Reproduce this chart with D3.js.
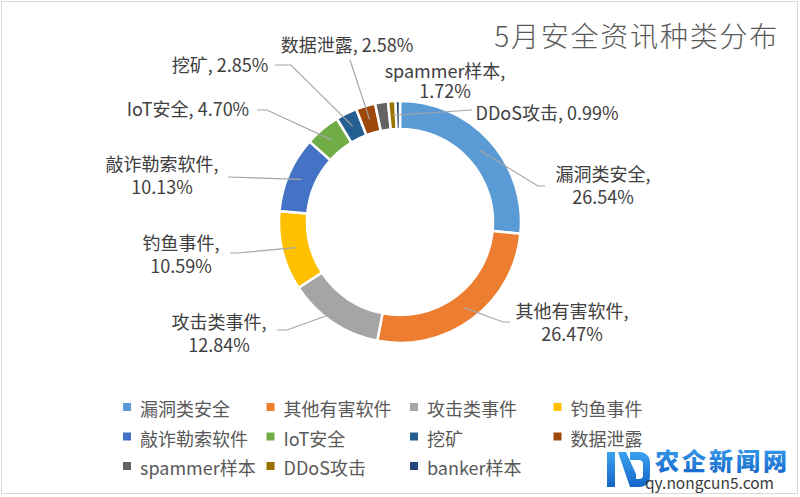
<!DOCTYPE html>
<html>
<head>
<meta charset="utf-8">
<script src="https://cdn.jsdelivr.net/npm/d3@7"></script>
<style>
  html, body { margin: 0; padding: 0; background: #fff; }
  svg { display: block; }
  text { font-family: "Noto Sans CJK SC", "Noto Sans", sans-serif; }
</style>
</head>
<body>
<svg id="chart" width="800" height="497"></svg>
<script>
// ---- data ----
const title = "5月安全资讯种类分布";
const categories = ["漏洞类安全", "其他有害软件", "攻击类事件", "钓鱼事件", "敲诈勒索软件",
  "IoT安全", "挖矿", "数据泄露", "spammer样本", "DDoS攻击", "banker样本"];
const values = [26.54, 26.47, 12.84, 10.59, 10.13, 4.70, 2.85, 2.58, 1.72, 0.99, 0.59];
const colors = ["#5B9BD5", "#ED7D31", "#A5A5A5", "#FFC000", "#4472C4", "#70AD47",
  "#255E91", "#9E480E", "#636363", "#997300", "#264478"];
// label layout: lines split, text centre offset & first baseline offset from pie centre,
// leader polyline points (offsets from centre) after the slice centroid
const labelSplit = [true, true, true, true, true, false, false, false, true, false, null];
const labelAnchor = [[203, -41], [172, 96], [-181, 107], [-219, 28], [-238, -51],
  [-212, -106], [-180, -150], [-53, -170], [45, -144], [147, -102], null];
const labelGap = [23, 23, 23, 23, 23, 0, 0, 0, 20, 0, 0];
const leaderPts = [
  [[138, -36], [145, -36]],
  [[103, 100], [110, 100]],
  [[-113, 108], [-123, 108]],
  [[-163, 31], [-170, 31]],
  [[-172, -45]],
  [[-133, -112], [-143, -112]],
  [[-109, -157], [-125, -157]],
  [[-50, -162]],
  null,
  [[72, -112]],
  null
];

const svg = d3.select("#chart");
const W = 800, H = 497;
const cx = 400, cy = 222, rOuter = 121, rInner = 93, rLabel = 107;

// frame
svg.append("rect").attr("x", 1.5).attr("y", 1.5).attr("width", W - 4).attr("height", H - 5)
  .attr("fill", "#fff").attr("stroke", "#d9d9d9").attr("stroke-width", 1);

// title
const t = svg.append("text").attr("x", 779).attr("y", 47).attr("text-anchor", "end")
  .attr("font-size", 28).attr("fill", "#595959").attr("font-weight", 300).text(title);
const tw = t.node().getComputedTextLength();
const targetW = 283;
if (tw > 0) t.attr("letter-spacing", ((targetW - tw) / (title.length - 1)).toFixed(2));

// pie
const pie = d3.pie().sort(null).value(d => d).startAngle(0).endAngle(2 * Math.PI);
const arcs = pie(values);
const arc = d3.arc().innerRadius(rInner).outerRadius(rOuter);
const arcMid = d3.arc().innerRadius(rLabel).outerRadius(rLabel);
const g = svg.append("g").attr("transform", `translate(${cx},${cy})`);
g.selectAll("path.slice").data(arcs).join("path").attr("class", "slice")
  .attr("d", arc).attr("fill", (d, i) => colors[i])
  .attr("stroke", "#fff").attr("stroke-width", 2.5).attr("stroke-linejoin", "miter");

// leaders
const line = d3.line();
arcs.forEach((a, i) => {
  if (!leaderPts[i]) return;
  const pts = [arcMid.centroid(a), ...leaderPts[i]];
  g.append("path").attr("d", line(pts)).attr("fill", "none")
    .attr("stroke", "#a6a6a6").attr("stroke-width", 1.2);
});

// labels
arcs.forEach((a, i) => {
  if (!labelAnchor[i]) return;
  const pct = values[i].toFixed(2) + "%";
  const lines = labelSplit[i] ? [categories[i] + ",", pct] : [categories[i] + ", " + pct];
  const tx = g.append("text").attr("text-anchor", "middle").attr("font-size", 18)
    .attr("fill", "#404040");
  lines.forEach((l, k) => {
    tx.append("tspan").attr("x", labelAnchor[i][0]).attr("y", labelAnchor[i][1] + k * labelGap[i]).text(l);
  });
});

// legend
const legCols = 4, colW = 143.5, legX = 123, legY = 403, rowH = 29.5;
const leg = svg.append("g");
categories.forEach((c, i) => {
  const col = i % legCols, row = Math.floor(i / legCols);
  const x = legX + col * colW, y = legY + row * rowH;
  leg.append("rect").attr("x", x).attr("y", y).attr("width", 8).attr("height", 8)
    .attr("fill", colors[i]);
  leg.append("text").attr("x", x + 17).attr("y", y + 13).attr("font-size", 18)
    .attr("fill", "#595959").text(c);
});

// watermark
const wm = svg.append("g");
const grad = svg.append("defs").append("linearGradient").attr("id", "wmg")
  .attr("x1", 0).attr("y1", 0).attr("x2", 0).attr("y2", 1);
grad.append("stop").attr("offset", "0").attr("stop-color", "#3aa3f0");
grad.append("stop").attr("offset", "1").attr("stop-color", "#1565c8");
wm.append("path").attr("fill", "url(#wmg)")
  .attr("d", "M607,452 h8 v35 h-8 z M618,452 h8 l10,22 v13 h-6 z M630,452 h10 a10,10 0 0 1 10,10 v15 a10,10 0 0 1 -10,10 h-4 v-8 h3 a4,4 0 0 0 4,-4 v-11 a4,4 0 0 0 -4,-4 h-9 z");
wm.append("text").attr("x", 655).attr("y", 470).attr("font-size", 24).attr("font-weight", 900)
  .attr("fill", "url(#wmg)").attr("letter-spacing", 3).text("农企新闻网");
wm.append("text").attr("x", 645).attr("y", 489).attr("font-size", 15.5)
  .attr("fill", "#3a3a3a").attr("font-family", "Noto Sans, sans-serif").text("qy.nongcun5.com");
</script>
</body>
</html>
